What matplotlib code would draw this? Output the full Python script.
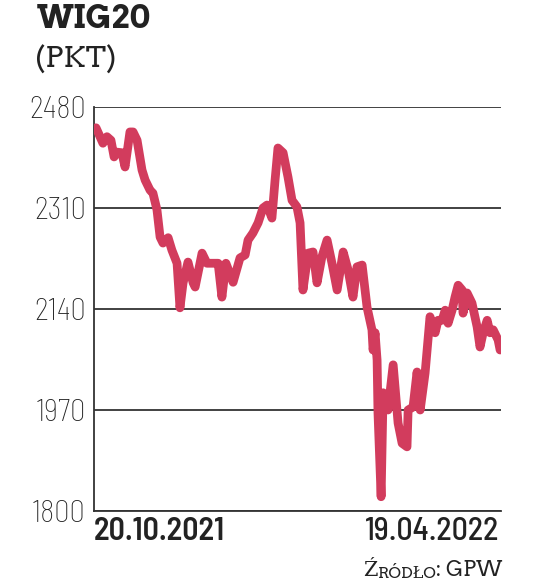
import matplotlib
matplotlib.use("Agg")
import matplotlib.pyplot as plt

# WIG20, 20.10.2021 - 19.04.2022 (x = days since 20.10.2021)
days = [0, 1.8, 3.1, 4.9, 6.7, 8.1, 9.4, 11.6, 13.0, 13.9, 15.2, 16.6, 18.4, 20.6,
        22.0, 24.2, 25.5, 27.3, 28.7, 30.0, 32.3, 34.0, 36.3, 37.6, 39.0, 41.2,
        43.5, 44.4, 47.5, 49.7, 53.3, 54.7, 56.4, 58.2, 61.4, 64.5, 66.8, 68.1,
        70.3, 72.6, 74.8, 76.6, 78.8, 80.2, 81.5, 83.8, 86.0, 87.8, 90.0, 91.4,
        92.7, 95.0, 97.2, 99.0, 101.2, 103.5, 105.7, 108.0, 110.7, 112.9, 115.1,
        116.9, 119.2, 121.4, 123.6, 124.1, 125.0, 125.9, 126.3, 127.7, 128.6,
        130.8, 133.1, 135.3, 137.1, 139.3, 139.8, 142.0, 143.8, 145.2, 147.4,
        149.6, 151.9, 153.2, 155.0, 156.4, 157.7, 159.5, 160.8, 162.2, 164.0,
        164.4, 166.2, 168.4, 170.7, 172.0, 173.4, 175.2, 176.5, 177.9, 180.1, 181.0]
values = [2445, 2430, 2419, 2430, 2424, 2396, 2404, 2403, 2379, 2403, 2438, 2438,
          2424, 2374, 2357, 2340, 2335, 2307, 2261, 2251, 2260, 2239, 2217, 2142,
          2184, 2219, 2184, 2177, 2234, 2217, 2217, 2217, 2160, 2217, 2185, 2226,
          2231, 2256, 2268, 2285, 2310, 2315, 2293, 2357, 2411, 2403, 2362, 2323,
          2312, 2285, 2172, 2234, 2236, 2184, 2228, 2256, 2217, 2172, 2236, 2206,
          2160, 2211, 2214, 2143, 2105, 2071, 2100, 2054, 1965, 1824, 1999, 1970,
          2046, 1948, 1914, 1908, 1970, 1975, 2034, 1970, 2032, 2127, 2100, 2121,
          2121, 2138, 2116, 2138, 2160, 2180, 2172, 2133, 2167, 2150, 2110, 2076,
          2100, 2121, 2100, 2105, 2088, 2071]
yticks = [1800, 1970, 2140, 2310, 2480]
start_label = "20.10.2021"
end_label = "19.04.2022"

narrow = ["Barlow Semi Condensed", "DejaVu Sans"]
slab = ["Arvo", "DejaVu Serif"]
ink = "#222222"

fig = plt.figure(figsize=(5.36, 5.84), dpi=100)
ax = fig.add_axes([94 / 536, 1 - 511 / 584, 407 / 536, 404 / 584])

ax.plot(days, values, color="#D23C5D", lw=6.3, solid_capstyle="round",
        solid_joinstyle="round", zorder=3)

ax.set_ylim(1800, 2480)
ax.set_xlim(-0.9, 181.4)
ax.set_yticks(yticks)
ax.set_yticklabels([str(t) for t in yticks], family=narrow, fontsize=22,
                   fontweight="light", color=ink)
ax.set_xticks([])
ax.tick_params(axis="y", length=0, pad=6)
ax.grid(axis="y", color="#333333", lw=1.3)
for s in ["top", "right"]:
    ax.spines[s].set_visible(False)
for s in ["left", "bottom"]:
    ax.spines[s].set_color("#333333")
    ax.spines[s].set_linewidth(1.3)

ax.text(0, -0.015, start_label, transform=ax.transAxes, ha="left", va="top",
        family=narrow, fontsize=23, fontweight="semibold", color=ink)
ax.text(0.995, -0.015, end_label, transform=ax.transAxes, ha="right", va="top",
        family=narrow, fontsize=23, fontweight="medium", color=ink)

fig.text(37 / 536, 1 - 28 / 584, "WIG20", family=slab, fontsize=23,
         fontweight="bold", color=ink, va="baseline")
fig.text(35 / 536, 1 - 68 / 584, "(PKT)", family=slab, fontsize=21,
         color=ink, va="baseline")

# source line, small caps built from two sizes
t1 = fig.text(363 / 536, 1 - 581 / 584, "Ź", family=slab, fontsize=15,
              color=ink, va="bottom")
a2 = ax.annotate("RÓDŁO", xy=(1, 0), xycoords=t1, va="bottom", ha="left",
                 family=slab, fontsize=11.5, color=ink, annotation_clip=False)
ax.annotate(": GPW", xy=(1, 0), xycoords=a2, va="bottom", ha="left",
            family=slab, fontsize=15, color=ink, annotation_clip=False)

fig.savefig("out.png", dpi=100, facecolor="white")
